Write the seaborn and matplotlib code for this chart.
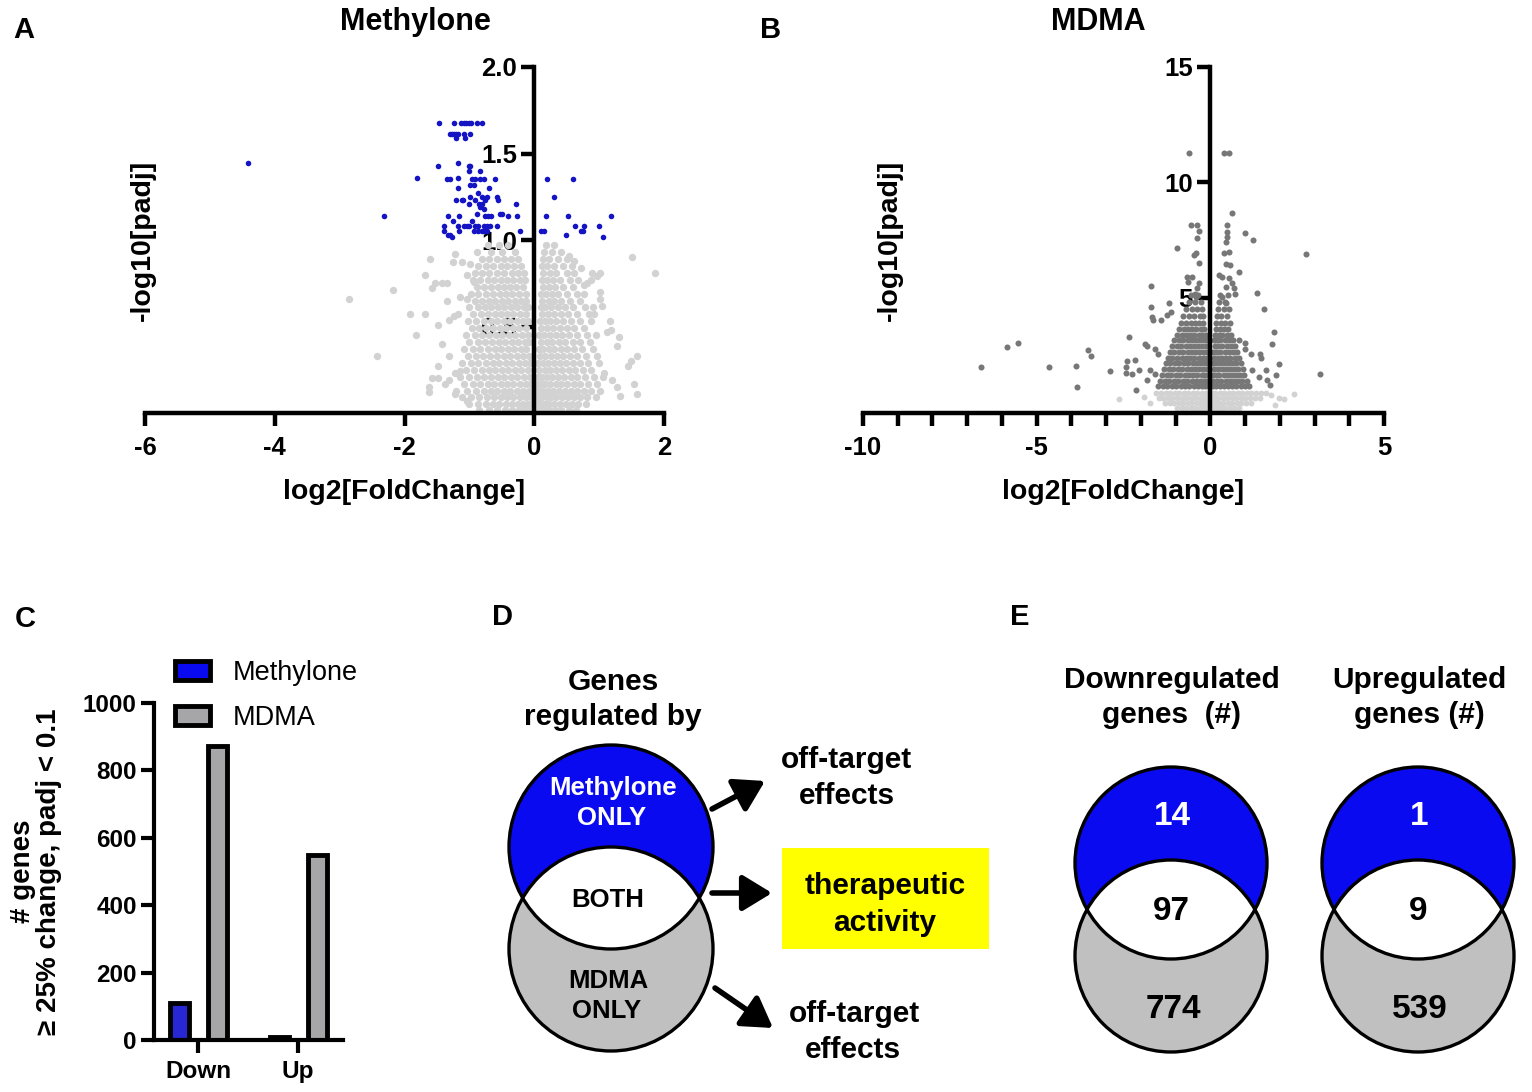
import pandas as pd
import matplotlib.pyplot as plt
import seaborn as sns
from matplotlib.patches import Circle, Rectangle, Patch

# Venn counts (panel E); panel C bars are the totals per drug
venn_titles = [('Downregulated', 'genes  (#)'), ('Upregulated', 'genes (#)')]
methylone_only = [14, 1]
both_drugs = [97, 9]
mdma_only = [774, 539]

directions = ['Down', 'Up']
drugs = ['Methylone', 'MDMA']

# Panel A: Methylone volcano, padj < 0.1 genes (blue), rows of (-log10 padj, [log2FC])
methylone_sig_rows = [
    (1.675, [-1.475, -1.243, -1.13, -1.09, -1.05, -1.01, -0.97, -0.88, -0.80]),
    (1.61, [-1.305, -1.27, -1.23, -1.20, -1.18, -1.09, -0.99]),
    (1.59, [-1.20, -1.06]),
    (1.445, [-4.41, -1.18]),
    (1.43, [-1.49, -1.01, -0.99]),
    (1.40, [-1.0, -0.84]),
    (1.36, [-1.81, -1.17]),
    (1.35, [-1.35, -1.30, -0.96, -0.91, -0.84, -0.78, -0.60, 0.195, 0.59]),
    (1.32, [-0.99, -0.93]),
    (1.30, [-1.17, -0.69]),
    (1.27, [-0.87]),
    (1.25, [-0.99, -0.81, -0.73, -0.57, 0.30]),
    (1.23, [-1.21, -1.12, -1.10, -0.91, -0.76, -0.56]),
    (1.21, [-1.0, -0.85, -0.81, -0.28]),
    (1.19, [-0.84]),
    (1.18, [-0.78]),
    (1.15, [-0.89, -0.53, -0.49]),
    (1.14, [-2.32, -1.33, -1.16, -0.76, -0.71, -0.67, -0.40, -0.27, 0.18, 0.52, 1.18]),
    (1.11, [-1.25, -0.96]),
    (1.08, [-1.39, -1.18, -1.08, -1.04, -1.0, -0.92, -0.86, -0.78, -0.73, -0.68, -0.57, 0.63, 0.76, 1.0]),
    (1.05, [-1.39, -1.16, -0.93, -0.86, -0.81, -0.78, -0.73, -0.22, 0.10, 0.15, 0.72, 0.75]),
    (1.03, [-1.33, -1.30, 0.49]),
    (1.02, [-1.27, 1.06]),
]

methylone_ns_rows = [
    (0.97, [-0.72, -0.55, -0.41, 0.18, 0.31]),
    (0.93, [-0.88, -0.66, -0.5, -0.3, 0.15, 0.27, 0.42]),
    (0.89, [-0.8, -0.7, -0.58, -0.47, -0.36, -0.25, 0.13, 0.22, 0.36, 0.5]),
    (0.85, [-0.86, -0.74, -0.63, -0.52, -0.42, -0.31, -0.2, 0.12, 0.2, 0.3, 0.45, 0.58]),
    (0.81, [-0.92, -0.8, -0.69, -0.57, -0.46, -0.35, -0.25, -0.16, 0.14, 0.24, 0.33, 0.5, 0.62]),
    (0.77, [-0.95, -0.83, -0.72, -0.62, -0.52, -0.42, -0.33, -0.22, -0.14, 0.12, 0.2, 0.29, 0.39, 0.55, 0.68]),
    (0.73, [-0.88, -0.77, -0.66, -0.56, -0.47, -0.38, -0.28, -0.18, 0.13, 0.23, 0.32, 0.44, 0.6]),
    (0.69, [-0.98, -0.86, -0.74, -0.63, -0.53, -0.44, -0.34, -0.24, -0.13, 0.11, 0.18, 0.27, 0.37, 0.5, 0.66, 0.76]),
    (0.65, [-0.92, -0.8, -0.7, -0.6, -0.5, -0.4, -0.3, -0.2, -0.12, 0.12, 0.22, 0.31, 0.42, 0.55, 0.71]),
    (0.61, [-1.0, -0.87, -0.76, -0.66, -0.56, -0.46, -0.36, -0.26, -0.16, -0.1, 0.1, 0.17, 0.26, 0.36, 0.47, 0.6, 0.78]),
    (0.57, [-0.95, -0.82, -0.71, -0.61, -0.51, -0.42, -0.32, -0.22, -0.12, 0.12, 0.21, 0.3, 0.41, 0.52, 0.66, 0.84]),
    (0.53, [-1.02, -0.9, -0.78, -0.67, -0.57, -0.47, -0.37, -0.27, -0.17, -0.09, 0.09, 0.16, 0.25, 0.34, 0.45, 0.56, 0.7, 0.88]),
    (0.49, [-0.96, -0.85, -0.74, -0.63, -0.53, -0.43, -0.33, -0.23, -0.13, 0.11, 0.2, 0.29, 0.39, 0.5, 0.62, 0.76]),
    (0.45, [-1.05, -0.92, -0.8, -0.69, -0.59, -0.49, -0.39, -0.29, -0.19, -0.1, 0.08, 0.15, 0.24, 0.33, 0.43, 0.54, 0.66, 0.82, 0.95]),
    (0.41, [-1.0, -0.87, -0.76, -0.65, -0.55, -0.45, -0.35, -0.25, -0.15, -0.08, 0.1, 0.19, 0.28, 0.38, 0.48, 0.59, 0.71, 0.86]),
    (0.37, [-1.08, -0.95, -0.83, -0.72, -0.61, -0.51, -0.41, -0.31, -0.21, -0.12, 0.07, 0.14, 0.22, 0.31, 0.41, 0.51, 0.62, 0.74, 0.9]),
    (0.33, [-1.02, -0.9, -0.79, -0.68, -0.57, -0.47, -0.37, -0.27, -0.17, -0.08, 0.09, 0.17, 0.26, 0.35, 0.45, 0.55, 0.66, 0.79, 0.96]),
    (0.29, [-1.12, -0.98, -0.86, -0.75, -0.64, -0.54, -0.44, -0.34, -0.24, -0.14, -0.07, 0.06, 0.13, 0.21, 0.3, 0.39, 0.49, 0.59, 0.7, 0.83, 1.0]),
    (0.25, [-1.05, -0.93, -0.81, -0.7, -0.6, -0.5, -0.4, -0.3, -0.2, -0.1, 0.08, 0.16, 0.25, 0.34, 0.43, 0.53, 0.63, 0.75, 0.88]),
    (0.21, [-1.15, -1.0, -0.88, -0.77, -0.66, -0.56, -0.46, -0.36, -0.26, -0.16, -0.07, 0.06, 0.12, 0.2, 0.28, 0.37, 0.46, 0.56, 0.66, 0.78, 0.92, 1.06]),
    (0.17, [-1.08, -0.95, -0.83, -0.72, -0.62, -0.52, -0.42, -0.32, -0.22, -0.12, -0.05, 0.05, 0.1, 0.17, 0.25, 0.33, 0.42, 0.51, 0.61, 0.71, 0.83, 0.97]),
    (0.13, [-1.2, -1.04, -0.9, -0.78, -0.67, -0.57, -0.47, -0.37, -0.27, -0.17, -0.08, 0.04, 0.08, 0.14, 0.21, 0.29, 0.38, 0.47, 0.56, 0.66, 0.76, 0.88, 1.02]),
    (0.09, [-1.12, -0.98, -0.85, -0.73, -0.62, -0.52, -0.42, -0.32, -0.22, -0.13, -0.05, 0.03, 0.07, 0.12, 0.19, 0.26, 0.34, 0.43, 0.52, 0.61, 0.71, 0.82, 0.95]),
    (0.05, [-1.0, -0.87, -0.75, -0.64, -0.54, -0.44, -0.34, -0.25, -0.17, -0.1, -0.04, 0.02, 0.06, 0.1, 0.16, 0.23, 0.31, 0.4, 0.49, 0.58, 0.68, 0.8]),
    (0.02, [-0.85, -0.7, -0.57, -0.45, -0.34, -0.24, -0.15, -0.08, -0.03, 0.0, 0.03, 0.08, 0.15, 0.23, 0.32, 0.42, 0.53, 0.65]),
]

methylone_ns_outliers = [
    (-2.85, 0.66), (-2.18, 0.71), (-2.43, 0.33), (-1.82, 0.45), (-1.91, 0.57), (-1.69, 0.57),
    (-1.60, 0.89), (-1.68, 0.80), (-1.53, 0.75), (-1.42, 0.75), (-1.35, 0.75), (-1.57, 0.72),
    (-1.35, 0.65), (-1.49, 0.51), (-1.42, 0.40), (-1.32, 0.33), (-1.49, 0.27), (-1.58, 0.20),
    (-1.62, 0.15), (-1.62, 0.12), (-1.49, 0.20), (-1.37, 0.17), (-1.31, 0.19), (-1.22, 0.11),
    (-1.04, 0.07), (-1.22, 0.23), (-1.15, 0.24), (-1.31, 0.54), (-1.23, 0.56), (-1.25, 0.87),
    (-1.12, 0.87), (-1.22, 0.92), (-1.04, 0.80), (-0.99, 0.86), (-0.93, 0.76), (-1.15, 0.67),
    (-1.04, 0.66), (-1.17, 0.57), (1.86, 0.81), (1.50, 0.90), (1.02, 0.81), (0.97, 0.79),
    (0.89, 0.81), (1.58, 0.33), (1.49, 0.30), (1.44, 0.27), (1.54, 0.17), (1.59, 0.11),
    (1.32, 0.10), (1.28, 0.39), (1.30, 0.44), (1.17, 0.53), (1.18, 0.48), (1.05, 0.62),
    (1.02, 0.66), (1.02, 0.70), (0.72, 0.84), (0.62, 0.88), (0.54, 0.91), (0.87, 0.77),
    (0.82, 0.75), (0.77, 0.74), (0.92, 0.57), (0.90, 0.61), (1.12, 0.47), (1.07, 0.23),
    (1.20, 0.19), (1.27, 0.15),
]

# Panel B: MDMA volcano, padj < 0.1 genes (dark grey)
mdma_sig_rows = [
    (1.15, [-1.5, -1.37, -1.24, -1.11, -0.98, -0.85, -0.72, -0.6, -0.48, -0.36, -0.25, -0.14, -0.07,
            0.07, 0.15, 0.27, 0.39, 0.51, 0.63, 0.75, 0.87, 0.99, 1.12]),
    (1.4, [-1.44, -1.31, -1.18, -1.05, -0.92, -0.79, -0.66, -0.54, -0.42, -0.3, -0.19, -0.09,
           0.09, 0.2, 0.32, 0.44, 0.56, 0.68, 0.8, 0.92, 1.05]),
    (1.65, [-1.38, -1.25, -1.12, -0.99, -0.86, -0.73, -0.61, -0.49, -0.37, -0.25, -0.14, -0.08,
            0.08, 0.15, 0.26, 0.38, 0.5, 0.62, 0.74, 0.86, 0.98]),
    (1.9, [-1.33, -1.2, -1.07, -0.94, -0.81, -0.68, -0.56, -0.44, -0.32, -0.2, -0.1,
           0.1, 0.21, 0.33, 0.45, 0.57, 0.69, 0.81, 0.93]),
    (2.15, [-1.28, -1.15, -1.02, -0.89, -0.76, -0.63, -0.51, -0.39, -0.27, -0.16, -0.08,
            0.08, 0.16, 0.27, 0.39, 0.51, 0.63, 0.75, 0.88]),
    (2.4, [-1.22, -1.09, -0.96, -0.83, -0.7, -0.58, -0.46, -0.34, -0.22, -0.11,
           0.11, 0.22, 0.34, 0.46, 0.58, 0.7, 0.83]),
    (2.65, [-1.17, -1.04, -0.91, -0.78, -0.65, -0.53, -0.41, -0.29, -0.18, -0.09,
            0.09, 0.17, 0.29, 0.41, 0.53, 0.65, 0.78]),
    (2.9, [-1.1, -0.97, -0.84, -0.71, -0.59, -0.47, -0.35, -0.23, -0.12,
           0.12, 0.23, 0.35, 0.47, 0.59, 0.72]),
    (3.15, [-1.04, -0.91, -0.78, -0.65, -0.53, -0.41, -0.29, -0.18, -0.1,
            0.1, 0.18, 0.29, 0.41, 0.53, 0.66]),
    (3.4, [-0.96, -0.83, -0.7, -0.58, -0.46, -0.34, -0.23, -0.13, 0.13, 0.24, 0.35, 0.47, 0.6]),
    (3.65, [-0.9, -0.77, -0.64, -0.52, -0.4, -0.28, -0.17, 0.15, 0.27, 0.39, 0.52]),
    (3.9, [-0.84, -0.7, -0.57, -0.45, -0.33, -0.21, 0.17, 0.3, 0.43, 0.56]),
    (4.2, [-0.78, -0.6, -0.48, -0.3, -0.2, 0.2, 0.31, 0.47]),
    (4.5, [-0.7, -0.52, -0.38, -0.24, 0.22, 0.38, 0.55]),
    (4.8, [-0.62, -0.44, -0.28, 0.25, 0.41]),
    (5.1, [-0.55, -0.36, 0.27, 0.5]),
]

mdma_sig_outliers = [
    (-0.60, 11.28), (0.40, 11.28), (0.55, 11.28), (0.62, 8.68), (-0.56, 8.15), (-0.37, 8.15),
    (-0.32, 7.90), (-0.39, 7.60), (0.49, 8.15), (0.47, 7.83), (0.49, 7.64), (0.44, 7.43),
    (1.0, 7.80), (1.22, 7.50), (2.75, 6.89), (-0.97, 7.17), (-0.41, 6.92), (-0.46, 6.85),
    (-0.33, 6.50), (0.40, 6.92), (0.53, 7.0), (0.44, 6.45), (0.58, 6.42), (0.83, 6.10),
    (-1.71, 5.50), (1.34, 5.22), (1.54, 4.50), (1.84, 3.53), (1.78, 3.0), (1.99, 2.13),
    (3.16, 1.69), (-6.60, 2.01), (-5.84, 2.88), (-5.55, 3.03), (-4.64, 2.01), (-3.53, 2.74),
    (-3.45, 2.45), (-3.87, 2.05), (-3.85, 1.11), (-2.89, 1.83), (-2.33, 3.28), (-2.43, 2.01),
    (-2.39, 2.27), (-2.44, 1.73), (-2.16, 2.30), (-2.26, 1.71), (-2.15, 1.0), (-2.05, 1.88),
    (-1.70, 4.59), (-1.68, 4.18), (-1.64, 4.04), (-1.87, 2.98), (-1.82, 2.90), (1.19, 1.86),
    (1.41, 1.57), (1.60, 1.86), (1.64, 1.43), (1.88, 1.65), (1.73, 1.22), (1.0, 2.79),
    (1.17, 2.57), (1.42, 2.57), (1.47, 2.40), (0.83, 3.15), (1.0, 3.05), (-1.60, 2.79),
    (-1.52, 2.57), (-1.73, 1.86), (-1.82, 1.43), (-1.60, 1.71), (-1.41, 4.04), (-1.26, 4.26),
    (-1.12, 4.39), (-1.18, 4.75), (-0.67, 5.91), (-0.52, 5.91), (-0.64, 5.69), (-0.34, 5.62),
    (-0.38, 5.40), (-0.45, 5.18), (-0.40, 5.04), (0.26, 5.98), (0.35, 5.91), (0.53, 5.84),
    (0.63, 5.62), (0.69, 5.40), (0.44, 5.47), (0.35, 5.04), (0.44, 4.75), (0.72, 5.18),
]

mdma_ns_rows = [
    (0.88, [-1.55, -1.42, -1.29, -1.16, -1.03, -0.9, -0.77, -0.64, -0.51, -0.38, -0.25, -0.12, -0.04,
            0.05, 0.14, 0.27, 0.4, 0.53, 0.66, 0.79, 0.92, 1.05, 1.18, 1.31, 1.45, 1.6]),
    (0.65, [-1.48, -1.35, -1.22, -1.09, -0.96, -0.83, -0.7, -0.57, -0.44, -0.31, -0.19, -0.08,
            0.03, 0.12, 0.23, 0.36, 0.49, 0.62, 0.75, 0.88, 1.01, 1.14, 1.28, 1.42]),
    (0.42, [-1.3, -1.17, -1.04, -0.91, -0.78, -0.65, -0.52, -0.39, -0.27, -0.16, -0.06,
            0.04, 0.14, 0.25, 0.37, 0.5, 0.63, 0.76, 0.89, 1.02, 1.16]),
    (0.2, [-0.95, -0.82, -0.69, -0.56, -0.43, -0.31, -0.2, -0.1, 0.0, 0.1, 0.2, 0.31, 0.43, 0.56, 0.69, 0.82]),
    (0.05, [-0.4, -0.27, -0.15, -0.05, 0.05, 0.15, 0.27, 0.4]),
]

mdma_ns_outliers = [
    (-2.64, 0.59), (-1.90, 0.68), (-1.75, 0.45), (1.99, 0.64), (2.13, 0.59), (2.40, 0.82),
    (1.75, 0.78), (1.85, 0.35),
]

BLUE = '#0a0af0'
DOT_BLUE = '#1414c4'
VENN_GREY = '#c0c0c0'
BAR_GREY = '#a6a6a9'
LIGHT = '#d2d2d2'
DARK = '#777777'
W, H = 1532, 1092


def rows_frame(rows, extra=()):
    xs, ys = [], []
    for y, xlist in rows:
        xs += xlist
        ys += [y] * len(xlist)
    for x, y in extra:
        xs.append(x)
        ys.append(y)
    return pd.DataFrame({'log2fc': xs, 'nlogp': ys})


def rect(left, top, right, bottom):
    return [left / W, 1 - bottom / H, (right - left) / W, (bottom - top) / H]


sns.set_theme(style='ticks')
plt.rcParams['font.family'] = ['Liberation Sans', 'DejaVu Sans']
plt.rcParams.update({'text.color': 'black', 'axes.labelcolor': 'black', 'axes.edgecolor': 'black',
                     'xtick.color': 'black', 'ytick.color': 'black'})

fig = plt.figure(figsize=(15.32, 10.92), dpi=100)


def style_volcano(ax, xlim, ylim, xticks, yticks, ylab_x, minor=None):
    ax.set_xlim(xlim)
    ax.set_ylim(ylim)
    ax.set_axisbelow(True)
    ax.spines['left'].set_position(('data', 0))
    for side in ['top', 'right']:
        ax.spines[side].set_visible(False)
    for side in ['left', 'bottom']:
        ax.spines[side].set_linewidth(3.2)
        ax.spines[side].set_color('black')
        ax.spines[side].set_zorder(5)
    ax.set_xticks(xticks, labels=[str(t) for t in xticks])
    ax.set_yticks(yticks[0], labels=yticks[1])
    if minor is not None:
        ax.set_xticks(minor, minor=True)
    ax.tick_params(axis='both', which='both', length=9.5, width=3.2, labelsize=18.5, color='black',
                   labelcolor='black')
    ax.tick_params(axis='x', pad=7)
    ax.tick_params(axis='y', pad=3)
    for lab in ax.get_xticklabels() + ax.get_yticklabels():
        lab.set_fontweight('bold')
    ax.set_xlabel('log2[FoldChange]', fontsize=20.5, fontweight='bold')
    ax.set_ylabel('-log10[padj]', fontsize=20.5, fontweight='bold')
    ax.xaxis.set_label_coords(0.5, -0.19)
    ax.yaxis.set_label_coords(ylab_x, 0.5)
    ax.grid(False)


# ---- A ----
axA = fig.add_axes(rect(145, 67, 664, 413))
sns.scatterplot(data=rows_frame(methylone_ns_rows, methylone_ns_outliers), x='log2fc', y='nlogp',
                color=LIGHT, s=28, linewidth=0, legend=False, ax=axA)
sns.scatterplot(data=rows_frame(methylone_sig_rows), x='log2fc', y='nlogp',
                color=DOT_BLUE, s=16, linewidth=0, legend=False, ax=axA)
style_volcano(axA, (-6, 2), (0, 2.0), [-6, -4, -2, 0, 2],
              ([0.5, 1.0, 1.5, 2.0], ['0.5', '1.0', '1.5', '2.0']), 0.02)

# ---- B ----
axB = fig.add_axes(rect(863, 67, 1384, 413))
sns.scatterplot(data=rows_frame(mdma_ns_rows, mdma_ns_outliers), x='log2fc', y='nlogp',
                color=LIGHT, s=18, linewidth=0, legend=False, ax=axB)
sns.scatterplot(data=rows_frame(mdma_sig_rows, mdma_sig_outliers), x='log2fc', y='nlogp',
                color=DARK, s=19, linewidth=0, legend=False, ax=axB)
style_volcano(axB, (-10, 5), (0, 15), [-10, -5, 0, 5],
              ([5, 10, 15], ['5', '10', '15']), 0.077, minor=list(range(-10, 6)))

# ---- C ----
bar_df = pd.DataFrame({
    'direction': [d for d in directions for _ in drugs],
    'drug': drugs * len(directions),
    'genes': [methylone_only[0] + both_drugs[0], mdma_only[0] + both_drugs[0],
              methylone_only[1] + both_drugs[1], mdma_only[1] + both_drugs[1]],
})
axC = fig.add_axes(rect(154, 703, 343, 1040))
sns.barplot(data=bar_df, x='direction', y='genes', hue='drug', order=directions, hue_order=drugs,
            palette={'Methylone': BLUE, 'MDMA': BAR_GREY}, edgecolor='black', linewidth=3.5,
            width=0.76, gap=0.5, errorbar=None, legend=False, ax=axC)
axC.set_xlim(-0.44, 1.45)
axC.set_ylim(0, 1000)
axC.set_yticks([0, 200, 400, 600, 800, 1000])
for side in ['top', 'right']:
    axC.spines[side].set_visible(False)
for side in ['left', 'bottom']:
    axC.spines[side].set_linewidth(3)
    axC.spines[side].set_color('black')
axC.tick_params(axis='both', length=9.5, width=3, labelsize=17.5, color='black', labelcolor='black')
axC.tick_params(axis='y', pad=3)
axC.tick_params(axis='x', pad=5)
for lab in axC.get_xticklabels() + axC.get_yticklabels():
    lab.set_fontweight('bold')
axC.set_xlabel('')
axC.set_ylabel('# genes\n\u2265 25% change, padj < 0.1', fontsize=20, fontweight='bold', linespacing=1.0)
axC.yaxis.set_label_coords(-0.487, 0.5)
handles = [Patch(facecolor=BLUE, edgecolor='black', linewidth=3.5),
           Patch(facecolor=BAR_GREY, edgecolor='black', linewidth=3.5)]
axC.legend(handles, drugs, loc='upper left', bbox_to_anchor=(0.11, 1.128), frameon=False,
           fontsize=19.5, handlelength=1.3, handleheight=0.7, handletextpad=0.85,
           labelspacing=0.72, borderpad=0, borderaxespad=0)

# ---- overlay in pixel coordinates: letters, titles, D and E ----
ov = fig.add_axes([0, 0, 1, 1], zorder=10)
ov.set_xlim(0, W)
ov.set_ylim(H, 0)
ov.set_axis_off()
ov.patch.set_alpha(0)


def txt(x, y, s, size, color='black', weight='bold'):
    ov.text(x, y, s, fontsize=size, fontweight=weight, color=color, ha='center', va='baseline')


for letter, (x, y) in zip('ABCDE', [(24, 38), (771, 38), (25, 627), (502, 625), (1020, 625)]):
    txt(x, y, letter, 21)
txt(415, 30, 'Methylone', 22)
txt(1098, 30, 'MDMA', 22)


def venn(cx, cy_top, cy_bot, r):
    bot = Circle((cx, cy_bot), r, facecolor=VENN_GREY, edgecolor='none', zorder=1)
    top = Circle((cx, cy_top), r, facecolor=BLUE, edgecolor='none', zorder=2)
    ov.add_patch(bot)
    ov.add_patch(top)
    lens = Circle((cx, cy_bot), r, facecolor='white', edgecolor='none', zorder=3)
    ov.add_patch(lens)
    lens.set_clip_path(top)
    for cy in (cy_top, cy_bot):
        ov.add_patch(Circle((cx, cy), r, facecolor='none', edgecolor='black', lw=2.4, zorder=4))


# D
venn(611, 847, 949, 102)
txt(613, 690, 'Genes', 21.5)
txt(613, 725, 'regulated by', 21.5)
txt(613, 795, 'Methylone', 18.5, color='white')
txt(612, 825, 'ONLY', 18.5, color='white')
txt(608, 907, 'BOTH', 18.5)
txt(608, 988, 'MDMA', 18.5)
txt(607, 1018, 'ONLY', 18.5)
arrow = dict(arrowstyle='-|>,head_length=0.9,head_width=0.55', lw=4, color='black',
             mutation_scale=20, shrinkA=0, shrinkB=0)
for tail, tip in [((712, 809), (765, 781)), ((712, 893), (772, 893)), ((715, 988), (773, 1028))]:
    ov.annotate('', xy=tip, xytext=tail, arrowprops=arrow)
ov.add_patch(Rectangle((782, 848), 207, 101, facecolor='#ffff00', edgecolor='none', zorder=1))
txt(885, 894, 'therapeutic', 21.5)
txt(885, 931, 'activity', 21.5)
txt(847, 768, 'off-target', 21.5)
txt(847, 804, 'effects', 21.5)
txt(854, 1022, 'off-target', 21.5)
txt(853, 1058, 'effects', 21.5)

# E
for (line1, line2), cx, m_only, both, d_only in zip(venn_titles, [1171, 1418], methylone_only,
                                                     both_drugs, mdma_only):
    venn(cx, 863, 956, 96)
    txt(cx + 1, 688, line1, 21.5)
    txt(cx + 1, 723, line2, 21.5)
    txt(cx + 1, 825, str(m_only), 24, color='white')
    txt(cx, 920, str(both), 24)
    txt(cx + 2, 1018, str(d_only), 24)

fig.savefig('out.png', dpi=100)
